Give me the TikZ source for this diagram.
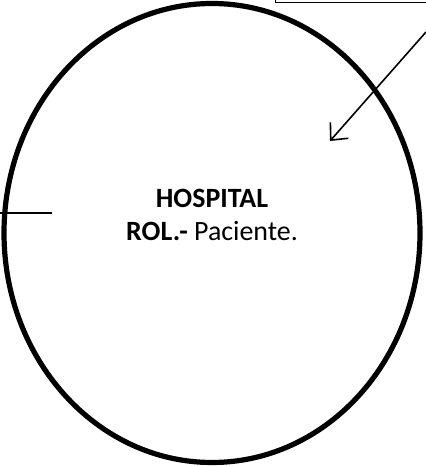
\documentclass[tikz,border=0pt]{standalone}
\usepackage{fontspec}
\setmainfont{Carlito}
\usetikzlibrary{arrows.meta}
\begin{document}
\begin{tikzpicture}[x=1bp,y=1bp,
  thinline/.style={line width=1.6bp, draw=black},
  arrowline/.style={line width=1.6bp, -{Straight Barb[length=13bp,width=24bp,line width=1.6bp]}}]
\useasboundingbox (0,0) rectangle (425,466);
\draw[line width=5.2bp] (212,233) ellipse [x radius=208, y radius=229.5];
\coordinate (hosp) at (212,233);
\node[font=\fontsize{28}{34}\selectfont, align=center] (label) at (212,251)
  {\textbf{HOSPITAL}\\\textbf{ROL.-} Paciente.};
\node[draw, line width=1bp, minimum width=160bp, minimum height=20bp, anchor=south west, inner sep=0] (box) at (275,463) {};
\coordinate (from) at (426,434);
\coordinate (to) at (330,325);
\draw[arrowline] (from) -- (to);
\coordinate (lstart) at (-1,253);
\coordinate (lend) at (52,253);
\draw[thinline] (lstart) -- (lend);
\end{tikzpicture}
\end{document}
